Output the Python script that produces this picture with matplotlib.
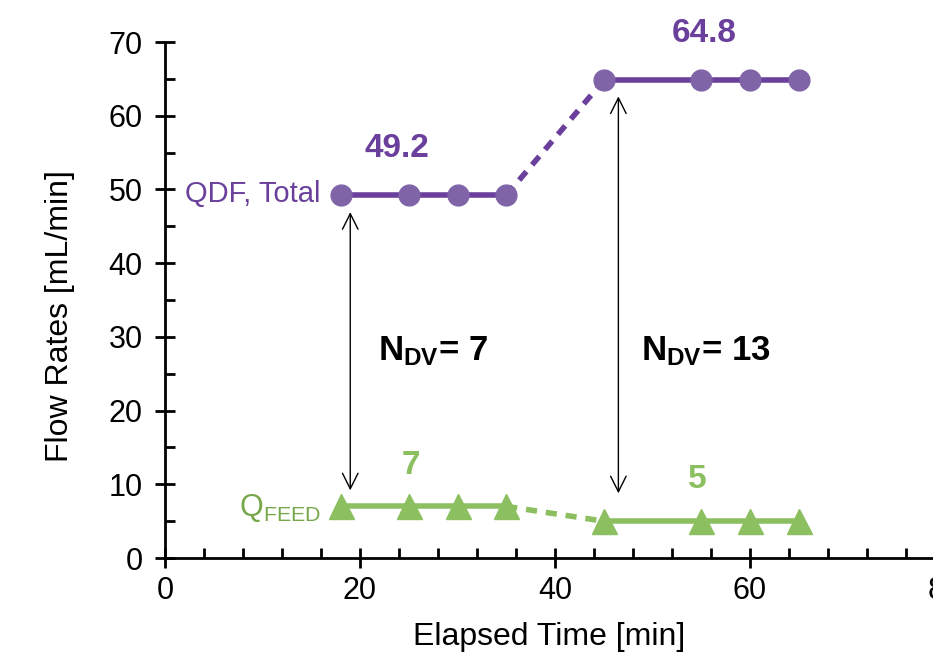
import numpy as np
import matplotlib.pyplot as plt
from matplotlib.ticker import MultipleLocator

plt.rcParams['font.family'] = ['Liberation Sans', 'DejaVu Sans']
plt.rcParams['mathtext.fontset'] = 'custom'
plt.rcParams['mathtext.rm'] = 'Liberation Sans'
plt.rcParams['mathtext.bf'] = 'Liberation Sans:bold'

# data
t_low = [18, 25, 30, 35]
t_high = [45, 55, 60, 65]
qdf_low = [49.2, 49.2, 49.2, 49.2]
qdf_high = [64.8, 64.8, 64.8, 64.8]
qfeed_low = [7, 7, 7, 7]
qfeed_high = [5, 5, 5, 5]
ndv = [7, 13]

purple_line = '#6b3f9c'
purple_mk = '#8064a8'
green = '#8cbf60'

fig = plt.figure(figsize=(9.33, 6.53), dpi=100)
ax = fig.add_axes([165/933, 1-558/653, (945-165)/933, (558-42)/653])

# purple series
ax.plot(t_low, qdf_low, color=purple_line, lw=4, marker='o', ms=15,
        mfc=purple_mk, mec=purple_mk, zorder=3)
ax.plot(t_high, qdf_high, color=purple_line, lw=4, marker='o', ms=15,
        mfc=purple_mk, mec=purple_mk, zorder=3)
ax.plot([t_low[-1], t_high[0]], [qdf_low[-1], qdf_high[0]], color=purple_line,
        lw=4, ls=(0, (2, 1.6)), zorder=2)

# green series
ax.plot(t_low, qfeed_low, color=green, lw=4, marker='^', ms=18,
        mfc=green, mec=green, zorder=3)
ax.plot(t_high, qfeed_high, color=green, lw=4, marker='^', ms=18,
        mfc=green, mec=green, zorder=3)
ax.plot([t_low[-1], t_high[0]], [qfeed_low[-1], qfeed_high[0]], color=green,
        lw=4, ls=(0, (2, 1.6)), zorder=2)

# arrows
arr = dict(arrowstyle='<->', color='black', lw=1, mutation_scale=28)
ax.annotate('', xy=(19, 8.8), xytext=(19, 47.3), arrowprops=arr)
ax.annotate('', xy=(46.5, 8.4), xytext=(46.5, 63.0), arrowprops=arr)

# labels
ax.text(23.8, 55.5, f'{qdf_low[0]}', color=purple_line, fontsize=24,
        fontweight='bold', ha='center', va='center')
ax.text(55.3, 71.2, f'{qdf_high[0]}', color=purple_line, fontsize=24,
        fontweight='bold', ha='center', va='center', clip_on=False)
ax.text(25.2, 12.6, f'{qfeed_low[0]}', color=green, fontsize=24,
        fontweight='bold', ha='center', va='center')
ax.text(54.6, 10.6, f'{qfeed_high[0]}', color=green, fontsize=24,
        fontweight='bold', ha='center', va='center')
ax.text(15.9, 49.4, 'QDF, Total', color=purple_line, fontsize=21,
        ha='right', va='center')
ax.text(16.0, 6.8, r'$\mathregular{Q_{FEED}}$', color='#76a84a', fontsize=22,
        ha='right', va='center')
ax.text(21.8, 28, r'$\mathbf{N_{DV}}$' + f'= {ndv[0]}', fontsize=25,
        fontweight='bold', ha='left', va='center')
ax.text(48.8, 28, r'$\mathbf{N_{DV}}$' + f'= {ndv[1]}', fontsize=25,
        fontweight='bold', ha='left', va='center')

ax.set_xlim(0, 80)
ax.set_ylim(0, 70)
ax.xaxis.set_major_locator(MultipleLocator(20))
ax.xaxis.set_minor_locator(MultipleLocator(4))
ax.yaxis.set_major_locator(MultipleLocator(10))
ax.yaxis.set_minor_locator(MultipleLocator(5))
ax.tick_params(which='major', direction='inout', length=14, width=2,
               labelsize=22)
ax.tick_params(axis='x', which='major', pad=6)
ax.tick_params(axis='y', which='major', pad=9)
ax.tick_params(which='minor', direction='in', length=7, width=2)
ax.spines['top'].set_visible(False)
ax.spines['right'].set_visible(False)
ax.spines['left'].set_linewidth(2)
ax.spines['bottom'].set_linewidth(2)
ax.set_xlabel('Elapsed Time [min]', fontsize=23)
ax.set_ylabel('Flow Rates [mL/min]', fontsize=23)
ax.xaxis.set_label_coords(0.492, -0.124)
ax.yaxis.set_label_coords(-0.115, 0.469)

fig.savefig('out.png', dpi=100)
